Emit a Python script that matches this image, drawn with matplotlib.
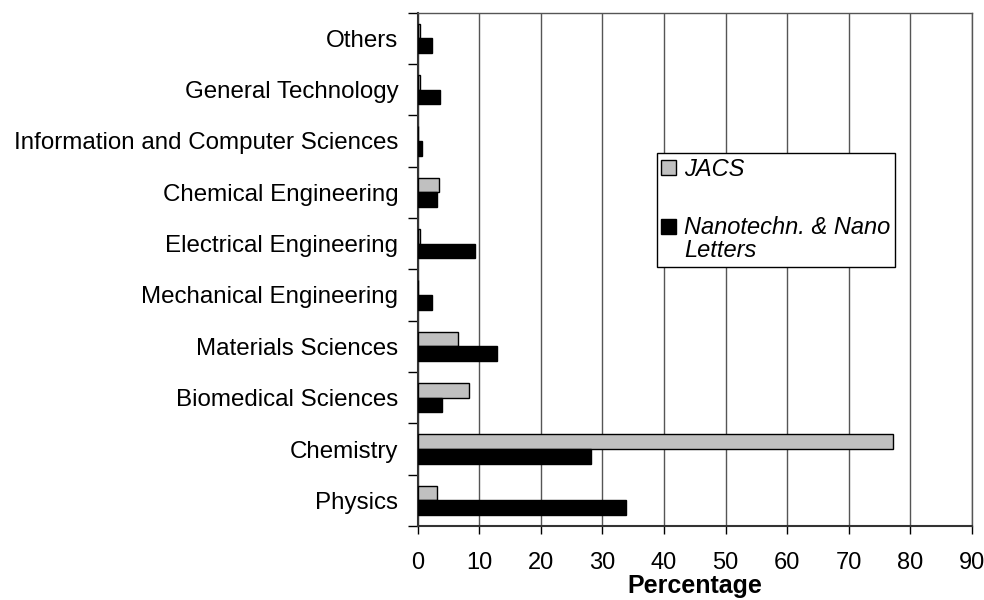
import matplotlib.pyplot as plt
import numpy as np
from matplotlib.patches import Rectangle
from matplotlib.legend_handler import HandlerPatch

plt.rcParams['font.family'] = ['Liberation Sans', 'DejaVu Sans']

# categories bottom -> top
categories = ["Physics", "Chemistry", "Biomedical Sciences", "Materials Sciences",
              "Mechanical Engineering", "Electrical Engineering", "Chemical Engineering",
              "Information and Computer Sciences", "General Technology", "Others"]
jacs = [3.2, 77.2, 8.4, 6.5, 0.0, 0.4, 3.4, 0.0, 0.4, 0.4]
nano = [33.9, 28.1, 4.0, 12.8, 2.4, 9.35, 3.2, 0.75, 3.6, 2.4]
xticks = list(range(0, 91, 10))

fig = plt.figure(figsize=(9.84, 6), dpi=100)
ax = fig.add_axes([0.4245, 0.1233, 0.5633, 0.8557])

y = np.arange(len(categories))
h = 0.285
ax.barh(y + h / 2, jacs, height=h, color='#c0c0c0', edgecolor='black', linewidth=1, zorder=3)
ax.barh(y - h / 2, nano, height=h, color='black', edgecolor='black', linewidth=1, zorder=3)

ax.set_xlim(0, 90)
ax.set_ylim(-0.5, len(categories) - 0.5)
ax.set_xticks(xticks)
ax.set_xticklabels([str(t) for t in xticks], fontsize=17)
ax.set_yticks(y)
ax.set_yticklabels(categories, fontsize=17.4)
ax.tick_params(axis='y', which='major', length=0, pad=14)
ax.set_yticks(np.arange(-0.5, len(categories), 1), minor=True)
ax.tick_params(axis='y', which='minor', length=7, width=1, direction='out')
ax.tick_params(axis='x', length=6, width=1, direction='out', pad=13)

ax.grid(axis='x', color='#555555', linewidth=1, zorder=0)
for s in ['top', 'right']:
    ax.spines[s].set_color('#555555')
    ax.spines[s].set_linewidth(1)
for s in ['left', 'bottom']:
    ax.spines[s].set_color('#333333')
    ax.spines[s].set_linewidth(1.5)

ax.set_xlabel("Percentage", fontsize=18, fontweight='bold', labelpad=0)


# legend square sits on the first line of a two-line label
def square_top(legend, orig_handle, xdescent, ydescent, width, height, fontsize):
    return Rectangle((-xdescent, -ydescent + 0.55 * fontsize), width, height)


def square(legend, orig_handle, xdescent, ydescent, width, height, fontsize):
    return Rectangle((-xdescent, -ydescent), width, height)


p1 = Rectangle((0, 0), 1, 1, facecolor='#c0c0c0', edgecolor='black', linewidth=1)
p2 = Rectangle((0, 0), 1, 1, facecolor='black', edgecolor='black', linewidth=1)
leg = ax.legend([p1, p2], ['JACS', 'Nanotechn. & Nano\nLetters'],
                loc='upper left', bbox_to_anchor=(0.4311, 0.7264),
                frameon=True, fancybox=False, edgecolor='black', framealpha=1,
                prop={'style': 'italic', 'size': 17}, handlelength=0.6,
                handleheight=0.6, handletextpad=0.35, borderpad=0.2,
                labelspacing=1.5, borderaxespad=0,
                handler_map={p1: HandlerPatch(patch_func=square),
                             p2: HandlerPatch(patch_func=square_top)})
leg.get_frame().set_linewidth(1)
for t in leg.get_texts():
    t.set_linespacing(1.0)

plt.savefig('out.png', dpi=100)
